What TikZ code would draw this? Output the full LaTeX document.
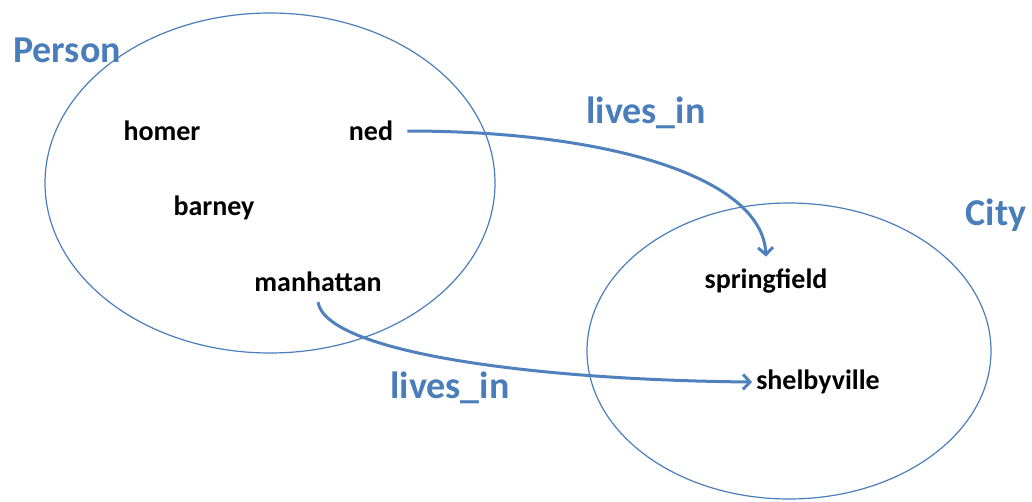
\documentclass[tikz,border=0pt]{standalone}
\usepackage{fontspec}
\setmainfont{Carlito}
\usepackage{tikz}
\usetikzlibrary{positioning,arrows.meta,shapes.geometric}
\definecolor{setblue}{HTML}{4A7EBB}
\definecolor{arrowblue}{HTML}{4F81BD}
\tikzset{
  setline/.style={draw=setblue, line width=1.2pt, ellipse, inner sep=0pt},
  setname/.style={text=setblue, font=\fontsize{38}{40}\selectfont\bfseries, inner sep=0pt},
  member/.style={font=\fontsize{28}{30}\selectfont\bfseries, inner sep=0pt},
  relname/.style={text=setblue, font=\fontsize{38}{40}\selectfont\bfseries, inner sep=0pt},
  livesarrow/.style={draw=arrowblue, line width=3pt, -{Straight Barb[length=7pt,width=15pt]}}
}

\begin{document}
\begin{tikzpicture}[x=1pt, y=-1pt]
  \useasboundingbox (0,0) rectangle (1032,501);
  % the two sets
  \node[setline, minimum width=450pt, minimum height=340pt] (personset) at (270,183) {};
  \node[setline, minimum width=404pt, minimum height=296pt] (cityset) at (789,351) {};
  \node[setname] (person) at (67,50) {Person};
  \node[setname] (city) at (996,215) {City};
  % members
  \node[member] (homer) at (162,131) {homer};
  \node[member] (ned) at (371,131) {ned};
  \node[member] (barney) at (214,208) {barney};
  \node[member] (manhattan) at (318,282) {manhattan};
  \node[member] (springfield) at (766,281) {springfield};
  \node[member] (shelbyville) at (818,382) {shelbyville};
  % relation
  \node[relname] (liveslabA) at (646,113) {lives\_in};
  \node[relname] (liveslabB) at (450,388) {lives\_in};
  \draw[livesarrow] ([xshift=14pt]ned.east) .. controls +(200,0) and +(-4,-80) .. ([yshift=12pt]springfield.north);
  \draw[livesarrow] ([yshift=-10pt]manhattan.south) .. controls +(8,50) and +(-220,-2) .. ([xshift=-4pt]shelbyville.west);
\end{tikzpicture}
\end{document}
